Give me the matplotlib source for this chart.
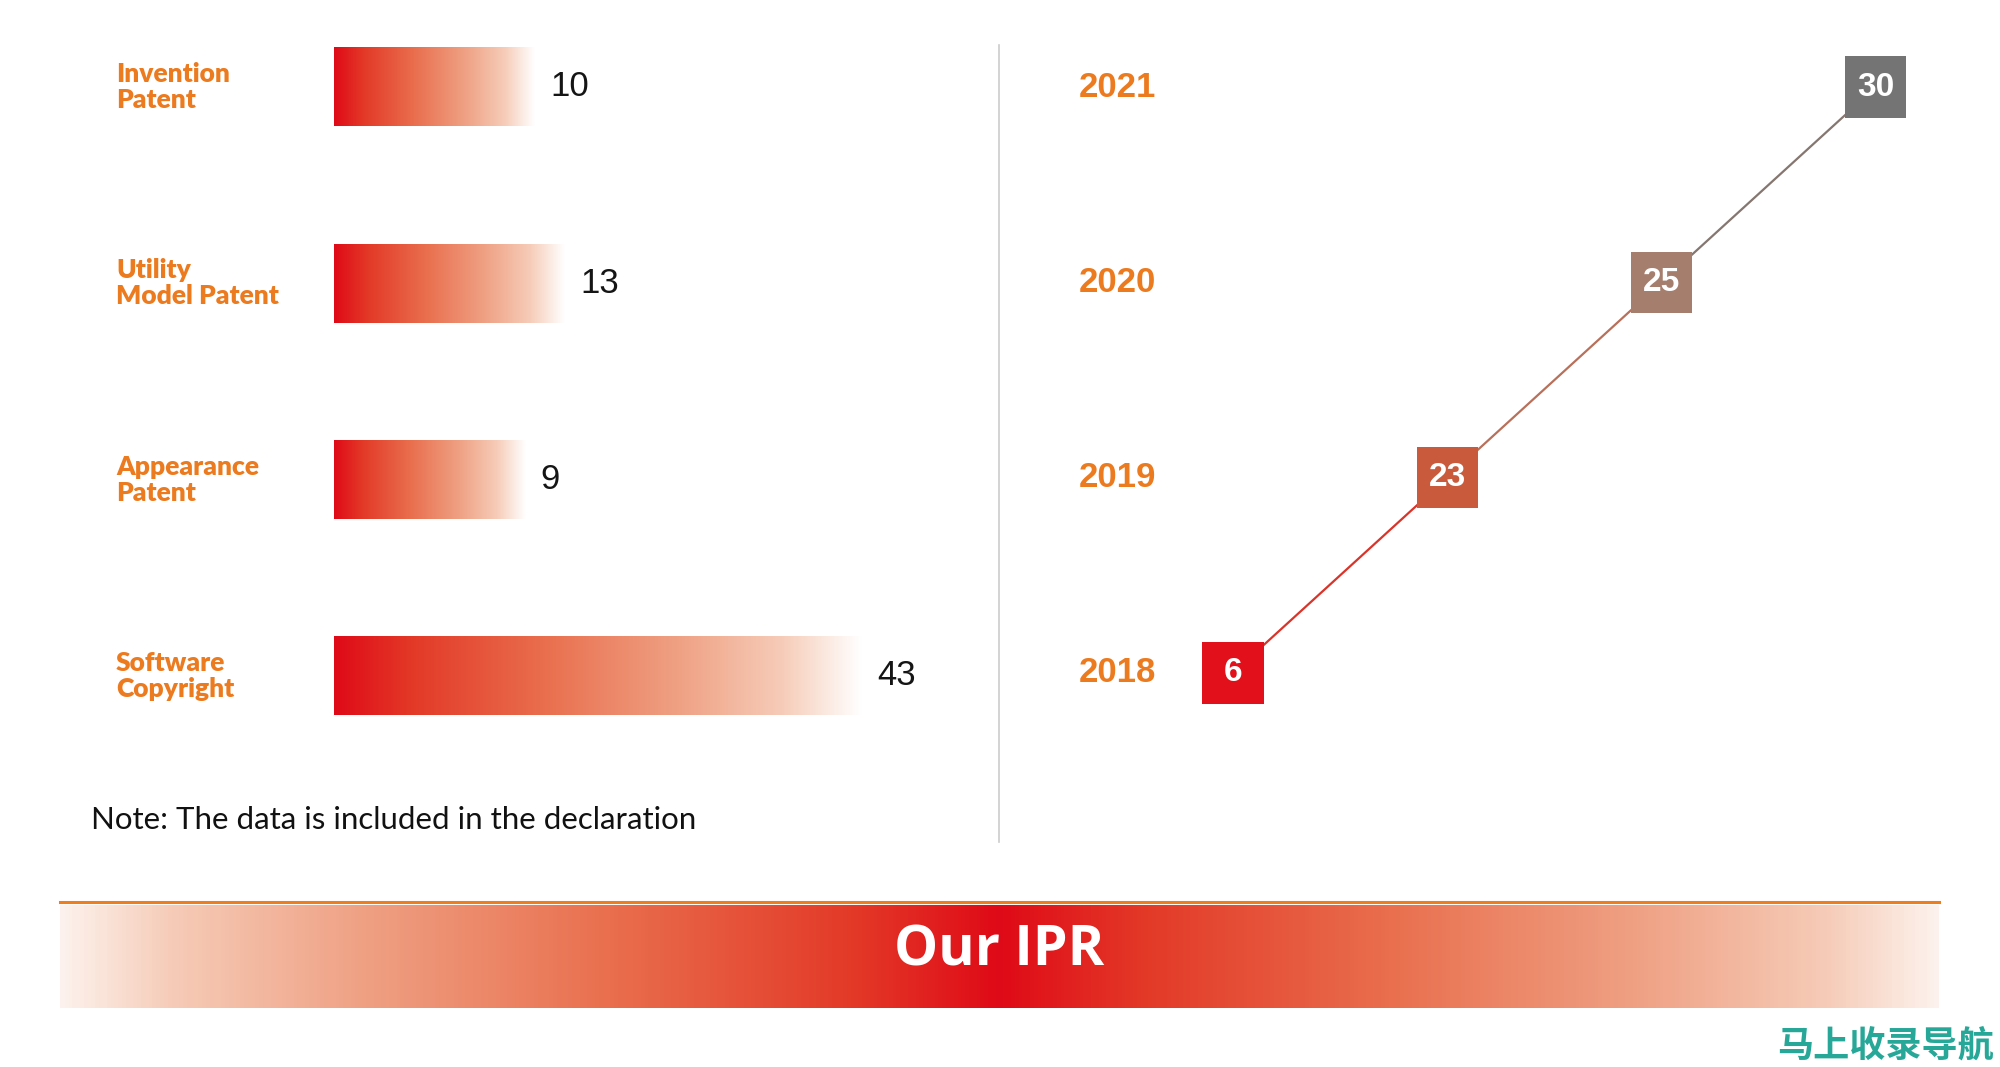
import matplotlib
matplotlib.use('Agg')
import matplotlib.pyplot as plt
import numpy as np
from matplotlib.colors import LinearSegmentedColormap
from matplotlib.collections import LineCollection
from matplotlib.lines import Line2D
from matplotlib.transforms import blended_transform_factory

# left panel: counts by IP type
categories = ['Invention\nPatent', 'Utility\nModel Patent', 'Appearance\nPatent', 'Software\nCopyright']
counts = [10, 13, 9, 43]

# right panel: yearly totals
years = [2018, 2019, 2020, 2021]
yearly = [6, 23, 25, 30]

note = 'Note: The data is included in the declaration'
title = 'Our IPR'
watermark = '马上收录导航'

ORANGE = '#EC7A1F'
marker_colors = ['#E1101B', '#C95B3C', '#A57E6E', '#747474']
seg_colors = ['#D9342A', '#B8705A', '#857670']

W, H = 2000, 1067
fig = plt.figure(figsize=(W / 100, H / 100), dpi=100)
fig.patch.set_facecolor('white')


def px_rect(x0, y0, x1, y1):
    # pixel box (top-left origin) -> figure fraction
    return [x0 / W, 1 - y1 / H, (x1 - x0) / W, (y1 - y0) / H]


bar_cmap = LinearSegmentedColormap.from_list(
    'bar', [(0, '#DF0A17'), (0.15, '#E33A28'), (0.4, '#E96F4E'),
            (0.65, '#EFA083'), (0.85, '#F6CCB8'), (1, '#FFFFFF')])
grad = np.linspace(0, 1, 256).reshape(1, -1)

# ---- left: gradient bars ----
axL = fig.add_axes(px_rect(334, 30, 960, 830))
base = -10.3
unit = 9.9
row_px = 196.3
ypos = np.arange(len(categories))
bars = axL.barh(ypos, np.array(counts) - base, left=base, height=0.40, color='none')
for b, v in zip(bars, counts):
    x0, y0, w, h = b.get_x(), b.get_y(), b.get_width(), b.get_height()
    axL.imshow(grad, cmap=bar_cmap, extent=[x0, x0 + w, y0, y0 + h],
               aspect='auto', interpolation='bicubic', zorder=1)
    axL.annotate(str(v), (x0 + w, y0 + h / 2), xytext=(11, 0), textcoords='offset points',
                 ha='left', va='center', fontsize=25, family='Liberation Sans', color='#151515')
axL.set_xlim(base, base + 626 / unit)
axL.set_ylim((830 - 87) / row_px, (30 - 87) / row_px)
axL.axis('off')

tL = blended_transform_factory(fig.transFigure, axL.transData)
for y, lab in zip(ypos, categories):
    fig.text(116 / W, y, lab, transform=tL, ha='left', va='center', fontsize=19,
             family='Lato', weight='heavy', color=ORANGE, linespacing=1.1)

fig.text(91 / W, 1 - 820 / H, note, ha='left', va='center', fontsize=22.5,
         family='Lato', color='#111111')

# divider
fig.add_artist(Line2D([999 / W, 999 / W], [1 - 45 / H, 1 - 842 / H], color='#CCCCCC', lw=1.2))

# ---- right: yearly step line ----
axR = fig.add_axes(px_rect(1000, 30, 1990, 830))
col_px = 214.3
xi = np.arange(len(years))
pts = np.column_stack([xi, years])
segs = np.stack([pts[:-1], pts[1:]], axis=1)
axR.add_collection(LineCollection(segs, colors=seg_colors, linewidths=1.6, zorder=2))
axR.scatter(xi, years, marker='s', s=44 ** 2, c=marker_colors, linewidths=0, zorder=3)
for x, y, v in zip(xi, years, yearly):
    axR.text(x, y, str(v), ha='center', va='center', color='white', fontsize=24,
             family='Liberation Sans', weight='bold', zorder=4)
axR.set_xlim((1000 - 1233) / col_px, (1990 - 1233) / col_px)
axR.set_ylim(2018 - (830 - 673) / 195.3, 2021 + (87 - 30) / 195.3)
axR.axis('off')

tR = blended_transform_factory(fig.transFigure, axR.transData)
for y in years:
    fig.text(1079 / W, y, str(y), transform=tR, ha='left', va='center', fontsize=25,
             family='Liberation Sans', weight='bold', color=ORANGE)

# ---- bottom banner ----
fig.add_artist(Line2D([60 / W, 1939 / W], [1 - 902 / H, 1 - 902 / H], color='#EE7D1E', lw=2.2))
axB = fig.add_axes(px_rect(60, 905, 1939, 1008))
bgrad = (np.abs(np.linspace(-1, 1, 512)) * 0.96).reshape(1, -1)
axB.imshow(bgrad, cmap=bar_cmap, vmin=0, vmax=1, aspect='auto', interpolation='bicubic')
axB.axis('off')
axB.text(0.5, 0.55, title, transform=axB.transAxes, ha='center', va='center',
         fontsize=40, family='Open Sans', weight='bold', color='white')

fig.text(1994 / W, 1 - 1046 / H, watermark, ha='right', va='center', fontsize=26,
         family=['Noto Sans CJK SC', 'DejaVu Sans'], weight='bold', color='#26A797')

fig.savefig('out.png', dpi=100, facecolor='white')
